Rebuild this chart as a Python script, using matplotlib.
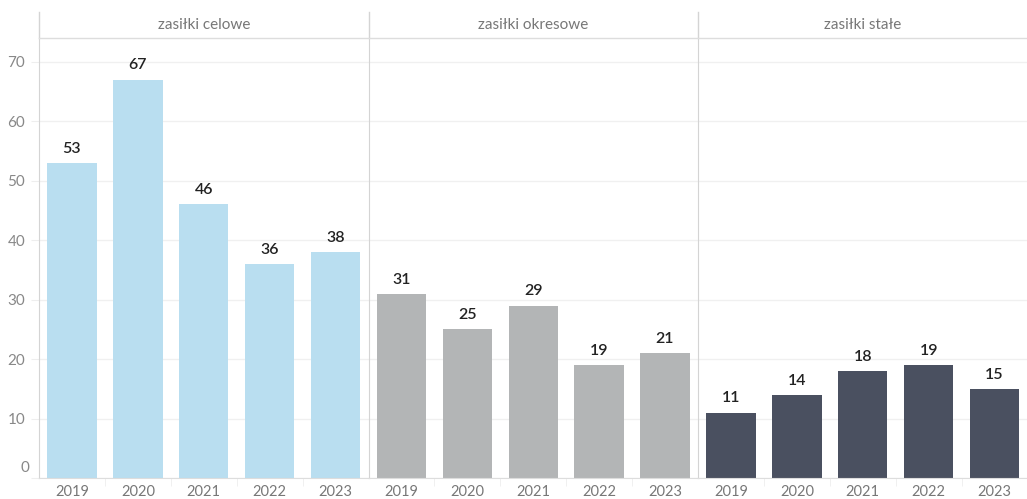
import matplotlib.pyplot as plt
from matplotlib.lines import Line2D
from matplotlib.transforms import offset_copy

years = ['2019', '2020', '2021', '2022', '2023']
panels = ['zasiłki celowe', 'zasiłki okresowe', 'zasiłki stałe']
celowe = [53, 67, 46, 36, 38]
okresowe = [31, 25, 29, 19, 21]
stale = [11, 14, 18, 19, 15]
series = [celowe, okresowe, stale]
colors = ['#b9def0', '#b3b5b6', '#4a5060']
yticks = list(range(0, 80, 10))

plt.rcParams['font.family'] = ['Lato', 'DejaVu Sans']

fig = plt.figure(figsize=(10.27, 4.99), dpi=100)

left = 39 / 1027
pw = 329.5 / 1027
bottom = 1 - 478 / 499
top = 1 - 38 / 499
head_top = 1 - 12 / 499
line_col = '#d4d4d4'

for i, (name, vals, col) in enumerate(zip(panels, series, colors)):
    ax = fig.add_axes([left + i * pw, bottom, pw, top - bottom])
    x = range(len(years))
    ax.bar(x, vals, width=0.75, color=col, zorder=2)
    for xi, v in zip(x, vals):
        ax.text(xi, v + 1.2, str(v), ha='center', va='bottom', fontsize=11.5,
                color='#222222', fontweight='semibold')
    ax.set_xlim(-0.5, 4.5)
    ax.set_ylim(0, 74)
    ax.set_yticks(yticks)
    ax.grid(axis='y', color='#f0f0f0', linewidth=1, zorder=0)
    ax.set_xticks(list(x))
    ax.set_xticklabels(years, fontsize=10.5, color='#777777')
    ax.set_xticks([0.5, 1.5, 2.5, 3.5], minor=True)
    ax.tick_params(axis='x', which='major', length=0, pad=5)
    ax.tick_params(axis='x', which='minor', length=6, color='#eeeeee')
    for s in ['top', 'right']:
        ax.spines[s].set_visible(False)
    ax.spines['bottom'].set_color('#dddddd')
    ax.spines['left'].set_color(line_col)
    if i == 0:
        ax.set_yticklabels([''] + [str(t) for t in yticks[1:]])
        ax.tick_params(axis='y', length=6, color='#eeeeee', labelsize=11,
                       labelcolor='#888888', pad=4)
        # zero label sits a little above the axis line
        tr = offset_copy(ax.get_yaxis_transform(), fig=fig, x=-10, y=10, units='dots')
        ax.text(0, 0, '0', transform=tr, ha='right', va='center',
                fontsize=11, color='#888888')
    else:
        ax.tick_params(axis='y', left=False, labelleft=False)
    # panel header
    fig.text(left + (i + 0.5) * pw, (top + head_top) / 2, name, ha='center',
             va='center', fontsize=11, color='#777777')
    # vertical separator extending into header
    xs = left + i * pw
    fig.add_artist(Line2D([xs, xs], [top, head_top], color=line_col, lw=1))

# header bottom line
fig.add_artist(Line2D([left, 1], [top, top], color='#dddddd', lw=1))

fig.savefig('out.png', dpi=100)
